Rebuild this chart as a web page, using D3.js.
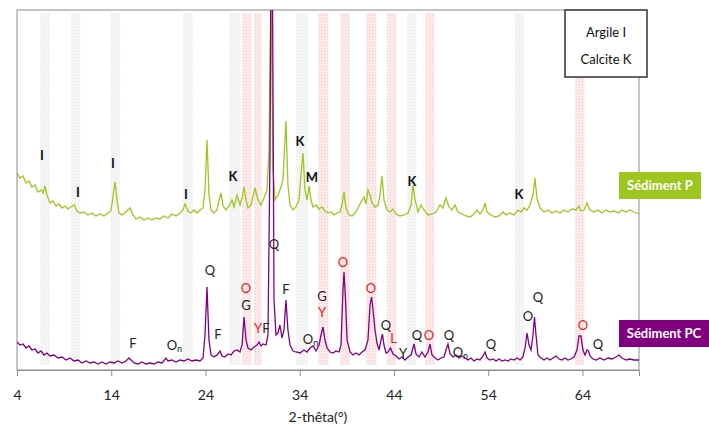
<!DOCTYPE html>
<html>
<head>
<meta charset="utf-8">
<script src="https://cdn.jsdelivr.net/npm/d3@7"></script>
<style>
  body { margin: 0; background: #fff; }
  svg { display: block; font-family: Lato, "Liberation Sans", sans-serif; }
</style>
</head>
<body>
<svg width="709" height="428"></svg>
<script>

/* === Données (2-thêta en °, intensité en coups arbitraires) === */

var xTicks = [4, 14, 24, 34, 44, 54, 64];

// Sédiment P (vert)
var sedimentP = [
 [4.0,1970],[4.32,1920],[4.64,1940],[4.96,1870],[5.27,1890],[5.59,1830],[5.91,1850],[6.23,1780],[6.55,1800],[6.76,1770],
 [6.97,1840],[7.18,1750],[7.5,1670],[7.82,1690],[8.14,1640],[8.46,1660],[8.78,1620],[9.09,1640],[9.41,1610],[9.73,1630],
 [10.05,1650],[10.37,1590],[10.69,1570],[11.11,1580],[11.53,1550],[11.96,1570],[12.38,1540],[12.81,1560],[13.23,1540],[13.66,1570],
 [13.97,1590],[14.19,1740],[14.4,1880],[14.61,1700],[14.82,1570],[15.14,1550],[15.57,1580],[15.99,1620],[16.31,1550],[16.63,1510],
 [17.05,1530],[17.48,1500],[17.9,1520],[18.33,1500],[18.75,1520],[19.17,1510],[19.6,1540],[20.02,1520],[20.45,1560],[20.87,1540],
 [21.3,1570],[21.61,1600],[21.83,1660],[22.14,1590],[22.46,1570],[22.78,1600],[23.1,1570],[23.42,1600],[23.74,1620],[23.95,1800],
 [24.16,2300],[24.37,1750],[24.59,1600],[24.9,1570],[25.22,1600],[25.44,1700],[25.65,1770],[25.86,1640],[26.18,1600],[26.5,1640],
 [26.81,1700],[27.03,1630],[27.35,1750],[27.66,1650],[27.88,1720],[28.09,1830],[28.3,1700],[28.51,1620],[28.83,1650],[29.26,1820],
 [29.57,1700],[29.89,1650],[30.21,1720],[30.53,1800],[30.74,2200],[30.95,3800],[31.16,2000],[31.38,1700],[31.69,1750],[31.9,1800],
 [32.22,1900],[32.54,2490],[32.75,1850],[32.97,1650],[33.29,1600],[33.6,1630],[33.92,1700],[34.13,1950],[34.35,2170],[34.56,1800],
 [34.77,1700],[34.99,1840],[35.2,1700],[35.41,1630],[35.73,1650],[36.05,1610],[36.36,1630],[36.68,1590],[37.0,1570],[37.32,1580],
 [37.64,1550],[37.96,1570],[38.27,1580],[38.48,1650],[38.7,1780],[38.91,1620],[39.23,1550],[39.55,1540],[39.87,1570],[40.18,1620],
 [40.5,1680],[40.82,1730],[41.03,1660],[41.24,1800],[41.46,1750],[41.67,1670],[41.99,1630],[42.31,1650],[42.52,1750],[42.73,1940],
 [42.94,1700],[43.26,1600],[43.58,1580],[43.9,1610],[44.22,1560],[44.64,1540],[45.07,1550],[45.49,1570],[45.81,1650],[46.02,1850],
 [46.24,1700],[46.55,1580],[46.87,1650],[47.19,1600],[47.61,1550],[48.04,1560],[48.46,1580],[48.88,1650],[49.2,1620],[49.52,1720],
 [49.84,1630],[50.16,1600],[50.48,1650],[50.79,1580],[51.22,1560],[51.64,1540],[52.07,1530],[52.49,1560],[52.81,1600],[53.13,1560],
 [53.45,1600],[53.66,1670],[53.87,1580],[54.3,1550],[54.72,1530],[55.15,1540],[55.57,1580],[55.89,1550],[56.31,1570],[56.74,1550],
 [57.16,1600],[57.48,1580],[57.8,1620],[58.12,1600],[58.43,1650],[58.75,1750],[58.96,1920],[59.17,1720],[59.49,1620],[59.92,1580],
 [60.34,1600],[60.77,1570],[61.19,1590],[61.62,1570],[62.04,1600],[62.46,1580],[62.89,1610],[63.31,1600],[63.63,1640],[63.84,1590],
 [64.16,1600],[64.48,1670],[64.8,1600],[65.22,1580],[65.65,1600],[66.07,1570],[66.5,1600],[66.92,1580],[67.35,1590],[67.77,1570],
 [68.2,1600],[68.62,1580],[69.04,1600],[69.47,1580],[70.0,1560]
];

// Sédiment PC (violet)
var sedimentPC = [
 [4.0,280],[4.32,250],[4.64,260],[4.96,220],[5.27,240],[5.59,200],[5.91,210],[6.23,170],[6.55,190],[6.87,150],
 [7.18,170],[7.5,140],[7.93,150],[8.35,120],[8.78,130],[9.2,100],[9.62,120],[10.05,90],[10.47,100],[10.9,70],
 [11.32,90],[11.75,70],[12.17,80],[12.6,60],[13.02,80],[13.44,60],[13.87,80],[14.29,70],[14.72,90],[15.14,70],
 [15.57,90],[15.88,120],[16.1,100],[16.42,70],[16.84,60],[17.26,80],[17.69,60],[18.11,70],[18.54,60],[18.96,80],
 [19.39,70],[19.81,120],[20.02,90],[20.45,100],[20.87,80],[21.3,100],[21.72,90],[22.14,110],[22.57,90],[22.99,100],
 [23.42,90],[23.74,120],[23.95,350],[24.16,830],[24.37,300],[24.59,150],[24.9,130],[25.22,150],[25.54,190],[25.75,140],
 [26.07,130],[26.39,160],[26.71,150],[27.03,190],[27.35,200],[27.66,180],[27.88,250],[28.09,530],[28.3,300],[28.51,220],
 [28.83,200],[29.15,230],[29.47,250],[29.68,280],[29.89,240],[30.1,260],[30.42,250],[30.63,350],[30.85,2200],[30.95,4200],
 [31.1,4000],[31.27,700],[31.48,350],[31.69,370],[31.9,450],[32.12,320],[32.33,400],[32.54,700],[32.75,400],[32.97,250],
 [33.29,190],[33.6,180],[34.03,170],[34.45,200],[34.77,180],[35.09,220],[35.41,240],[35.73,190],[36.05,250],[36.26,350],
 [36.47,430],[36.68,300],[36.9,220],[37.21,180],[37.53,170],[37.85,190],[38.17,180],[38.38,250],[38.59,800],[38.7,980],
 [38.86,700],[39.02,300],[39.34,180],[39.65,150],[39.97,170],[40.29,150],[40.61,180],[40.93,200],[41.24,300],[41.46,650],
 [41.62,730],[41.78,600],[41.99,400],[42.2,270],[42.41,200],[42.63,300],[42.78,360],[42.94,250],[43.16,170],[43.37,180],
 [43.63,220],[43.9,160],[44.22,140],[44.54,110],[44.85,130],[45.17,100],[45.49,130],[45.81,150],[46.13,260],[46.34,160],
 [46.66,130],[46.97,180],[47.29,130],[47.61,180],[47.82,260],[48.04,150],[48.36,120],[48.67,100],[48.99,120],[49.31,130],
 [49.52,200],[49.73,260],[49.95,160],[50.27,130],[50.58,150],[50.9,120],[51.22,140],[51.54,120],[51.86,100],[52.17,120],
 [52.49,90],[52.81,110],[53.13,100],[53.45,140],[53.66,180],[53.87,120],[54.19,100],[54.51,110],[54.83,90],[55.15,110],
 [55.47,90],[55.78,100],[56.1,90],[56.42,110],[56.74,100],[57.06,120],[57.38,100],[57.69,130],[57.91,220],[58.12,370],
 [58.33,250],[58.54,200],[58.75,350],[58.91,530],[59.07,350],[59.28,150],[59.6,120],[59.92,100],[60.24,120],[60.56,100],
 [60.88,120],[61.19,140],[61.51,110],[61.83,100],[62.15,120],[62.46,100],[62.78,110],[63.1,130],[63.42,200],[63.63,340],
 [63.84,340],[64.05,200],[64.27,150],[64.48,200],[64.64,190],[64.8,140],[65.12,110],[65.44,100],[65.86,120],[66.29,100],
 [66.71,120],[67.14,110],[67.56,130],[67.88,150],[68.2,120],[68.62,100],[69.04,110],[69.47,100],[70.0,100]
];

// Bandes de référence (centre en 2-thêta, largeur en °)
var bandesArgile = [[6.97,1.0],[10.2,1.0],[14.44,1.0],[22.13,1.0],[27.1,1.2],[34.25,1.25],[45.87,1.0],[57.3,1.0]];
var bandesRouges = [[28.4,1.0],[29.55,0.8],[36.5,1.1],[38.8,1.0],[41.6,1.1],[43.75,1.0],[47.8,1.0],[63.7,1.0]];

// Labels : texte, 2-thêta, intensité, indice, couleur
var labelsP = [
 ["I",6.65,2150],["I",10.47,1780],["I",14.19,2070],["I",21.93,1760],["K",26.92,1940],
 ["K",34.03,2290],["M",35.3,1930],["K",45.92,1890],["K",57.27,1760]
];
var labelsPC = [
 ["Q",24.48,1000,""],["F",16.31,270,""],["O",20.7,250,"n"],["F",25.33,360,""],["O",28.3,820,"","r"],
 ["G",28.3,650,""],["Y",29.57,420,"","r"],["F",30.42,420,""],["Q",31.27,1260,""],["F",32.54,810,""],
 ["O",35.15,310,"n"],["G",36.36,740,""],["Y",36.36,580,"","r"],["O",38.59,1080,"","r"],["O",41.56,820,"","r"],
 ["Q",43.16,450,""],["L",43.95,320,"","r"],["Y",44.96,170,""],["Q",46.45,350,""],["O",47.72,350,"","r"],
 ["Q",49.84,350,""],["O",51.05,180,"n"],["Q",54.3,260,""],["O",58.22,540,""],["Q",59.28,730,""],
 ["O",64.05,450,"","r"],["Q",65.65,260,""]
];

var legendeMineraux = ["Argile I", "Calcite K"];

/* === Graphe === */

var svg = d3.select("svg"),
    margin = {left: 17, right: 70, top: 10, bottom: 58},
    width = +svg.attr("width"),
    height = +svg.attr("height");

var x = d3.scaleLinear().domain([4, 70]).range([margin.left, width - margin.right]);
var y = d3.scaleLinear().domain([0, 3600]).range([height - margin.bottom, margin.top]);

var vert = "#9dc71f", violet = "#800080", rouge = "#ee1c1c";

// motifs pointillés pour les bandes
var defs = svg.append("defs");
function motif(id, fond, point) {
  var p = defs.append("pattern").attr("id", id).attr("width", 3).attr("height", 3)
    .attr("patternUnits", "userSpaceOnUse");
  p.append("rect").attr("width", 3).attr("height", 3).attr("fill", fond);
  p.append("rect").attr("x", 0).attr("y", 0).attr("width", 1).attr("height", 1).attr("fill", point);
  p.append("rect").attr("x", 1.5).attr("y", 1.5).attr("width", 1).attr("height", 1).attr("fill", point);
}
motif("gris", "#f8f8f8", "#e4e4e4");
motif("rose", "#fdf0f0", "#f7c4c4");

defs.append("clipPath").attr("id", "zone").append("rect")
  .attr("x", margin.left).attr("y", margin.top)
  .attr("width", x(70) - x(4)).attr("height", y(0) - y(3600));

var bandY0 = 13, bandY1 = 365;

svg.selectAll(".bande-gris").data(bandesArgile).enter().append("rect")
  .attr("x", function(d) { return x(d[0] - d[1] / 2); })
  .attr("width", function(d) { return x(d[0] + d[1] / 2) - x(d[0] - d[1] / 2); })
  .attr("y", bandY0).attr("height", bandY1 - bandY0)
  .attr("fill", "url(#gris)");

svg.selectAll(".bande-rose").data(bandesRouges).enter().append("rect")
  .attr("x", function(d) { return x(d[0] - d[1] / 2); })
  .attr("width", function(d) { return x(d[0] + d[1] / 2) - x(d[0] - d[1] / 2); })
  .attr("y", bandY0).attr("height", bandY1 - bandY0)
  .attr("fill", "url(#rose)");

// cadre
svg.append("rect")
  .attr("x", x(4)).attr("y", y(3600))
  .attr("width", x(70) - x(4)).attr("height", y(0) - y(3600))
  .attr("fill", "none").attr("stroke", "#8c8c8c").attr("stroke-width", 1);

// axe des x
var axe = svg.append("g")
  .attr("transform", "translate(0," + y(0) + ")")
  .call(d3.axisBottom(x).tickValues(xTicks).tickSize(6).tickPadding(14).tickFormat(d3.format("d")));
axe.select(".domain").attr("stroke", "#8c8c8c");
axe.selectAll(".tick line").attr("stroke", "#8c8c8c");
axe.selectAll(".tick text").attr("font-size", 14).attr("fill", "#222")
  .attr("font-family", "Lato, 'Liberation Sans', sans-serif");

svg.append("text")
  .attr("x", 318).attr("y", 422)
  .attr("text-anchor", "middle").attr("font-size", 14).attr("fill", "#222")
  .text("2-thêta(°)");

// courbes
var ligne = d3.line()
  .x(function(d) { return x(d[0]); })
  .y(function(d) { return y(d[1]); });

var courbes = svg.append("g").attr("clip-path", "url(#zone)");
courbes.append("path").datum(sedimentP)
  .attr("d", ligne).attr("fill", "none").attr("stroke", vert).attr("stroke-width", 1.3);
courbes.append("path").datum(sedimentPC)
  .attr("d", ligne).attr("fill", "none").attr("stroke", violet).attr("stroke-width", 1.3);

// labels Sédiment P
svg.selectAll(".lab-p").data(labelsP).enter().append("text")
  .attr("x", function(d) { return x(d[1]); })
  .attr("y", function(d) { return y(d[2]); })
  .attr("dy", "0.36em").attr("text-anchor", "middle")
  .attr("font-size", 13).attr("font-weight", "bold").attr("fill", "#111")
  .text(function(d) { return d[0]; });

// labels Sédiment PC
var labPC = svg.selectAll(".lab-pc").data(labelsPC).enter().append("text")
  .attr("x", function(d) { return x(d[1]); })
  .attr("y", function(d) { return y(d[2]); })
  .attr("dy", "0.36em").attr("text-anchor", "middle")
  .attr("font-size", 13)
  .attr("fill", function(d) { return d[4] == "r" ? rouge : "#222"; });
labPC.append("tspan").text(function(d) { return d[0]; });
labPC.filter(function(d) { return d[3] != ""; }).append("tspan")
  .attr("font-size", 9).attr("dy", "0.3em").text(function(d) { return d[3]; });

// légende minéraux
var boite = svg.append("g");
boite.append("rect").attr("x", 565).attr("y", 10).attr("width", 82).attr("height", 67)
  .attr("fill", "#fff").attr("stroke", "#333").attr("stroke-width", 1.5);
boite.selectAll("text").data(legendeMineraux).enter().append("text")
  .attr("x", 606).attr("y", function(d, i) { return 32 + i * 27; })
  .attr("dy", "0.36em").attr("text-anchor", "middle").attr("font-size", 13).attr("fill", "#111")
  .text(function(d) { return d; });

// étiquettes des séries
function etiquette(txt, couleur, x0, y0, w) {
  svg.append("rect").attr("x", x0).attr("y", y0).attr("width", w).attr("height", 27).attr("fill", couleur);
  svg.append("text").attr("x", x0 + w / 2).attr("y", y0 + 13.5).attr("dy", "0.36em")
    .attr("text-anchor", "middle").attr("font-size", 13).attr("font-weight", "bold")
    .attr("fill", "#fff").text(txt);
}
etiquette("Sédiment P", vert, 619, 172, 82);
etiquette("Sédiment PC", violet, 619, 320, 90);

</script>
</body>
</html>
